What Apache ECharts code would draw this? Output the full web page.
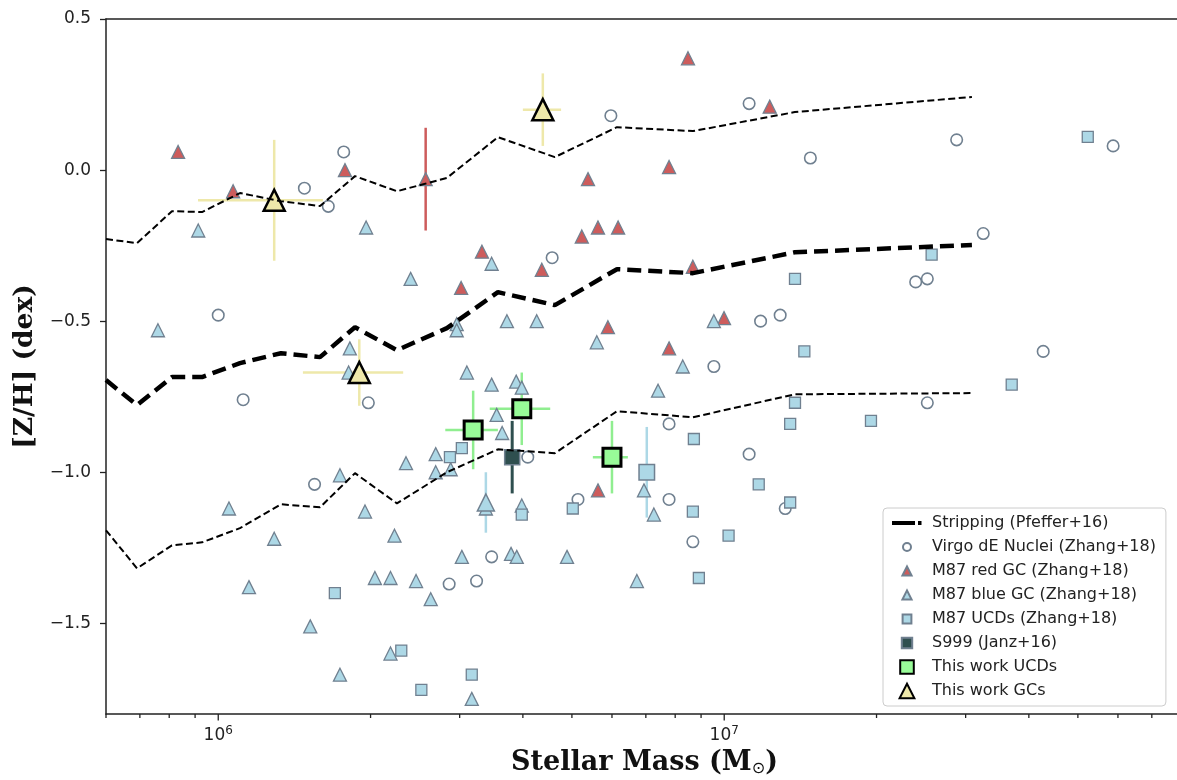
<!DOCTYPE html>
<html>
<head>
<meta charset="utf-8">
<script src="https://cdn.jsdelivr.net/npm/echarts@6/dist/echarts.min.js"></script>
<style>
  html, body { margin: 0; padding: 0; background: #ffffff; }
  #chart { width: 1177px; height: 780px; }
</style>
</head>
<body>
<div id="chart"></div>
<script>
// ---- Stripping tracks (Pfeffer+16): median and envelope ----
const stripMass   = [6.0e5, 6.91e5, 8.10e5, 9.29e5, 1.104e6, 1.33e6, 1.589e6, 1.863e6, 2.255e6, 2.831e6, 3.571e6, 4.627e6, 6.138e6, 8.673e6, 1.379e7, 3.087e7];
const stripMedian = [-0.695, -0.778, -0.685, -0.685, -0.639, -0.606, -0.619, -0.520, -0.596, -0.523, -0.404, -0.447, -0.328, -0.341, -0.272, -0.248];
const stripUpper  = [-0.228, -0.242, -0.136, -0.139, -0.076, -0.103, -0.119, -0.020, -0.070, -0.026, 0.109, 0.043, 0.142, 0.129, 0.192, 0.242];
const stripLower  = [-1.192, -1.318, -1.242, -1.232, -1.185, -1.106, -1.116, -1.003, -1.103, -1.000, -0.924, -0.937, -0.798, -0.818, -0.742, -0.738];

// ---- Virgo dE nuclei (Zhang+18) ----
const nucleiMass = [1.48e6, 1.65e6, 1.77e6, 5.97e6, 1.12e7, 1.48e7, 2.88e7, 5.87e7, 3.25e7, 4.57e6, 1.00e6, 1.12e6, 1.98e6, 1.55e6, 1.18e7, 1.29e7, 2.39e7, 2.52e7, 4.27e7, 2.52e7, 9.54e6, 7.78e6, 1.12e7, 4.09e6, 5.14e6, 7.78e6, 1.32e7, 8.67e6, 2.86e6, 3.24e6, 3.47e6];
const nucleiZH   = [-0.06, -0.12, 0.06, 0.18, 0.22, 0.04, 0.10, 0.08, -0.21, -0.29, -0.48, -0.76, -0.77, -1.04, -0.50, -0.48, -0.37, -0.36, -0.60, -0.77, -0.65, -0.84, -0.94, -0.95, -1.09, -1.09, -1.12, -1.23, -1.37, -1.36, -1.28];

// ---- M87 red GCs (Zhang+18); one object carries a [Z/H] error ----
const redMass  = [8.33e5, 1.07e6, 1.78e6, 2.57e6, 3.32e6, 3.02e6, 4.36e6, 5.23e6, 5.63e6, 6.17e6, 5.38e6, 7.78e6, 8.48e6, 1.23e7, 5.89e6, 7.78e6, 9.99e6, 8.67e6, 5.63e6];
const redZH    = [0.06, -0.07, 0.00, -0.03, -0.27, -0.39, -0.33, -0.22, -0.19, -0.19, -0.03, 0.01, 0.37, 0.21, -0.52, -0.59, -0.49, -0.32, -1.06];
const redZHErr = [null, null, null, 0.17, null, null, null, null, null, null, null, null, null, null, null, null, null, null, null];

// ---- M87 blue GCs (Zhang+18) ----
const blueMass = [9.13e5, 1.96e6, 2.40e6, 3.47e6, 7.60e5, 2.96e6, 2.96e6, 3.72e6, 4.26e6, 5.60e6, 8.28e6, 9.54e6, 7.40e6, 1.82e6, 1.81e6, 3.10e6, 3.47e6, 3.88e6, 3.98e6, 3.55e6, 3.64e6, 1.74e6, 1.05e6, 1.29e6, 1.95e6, 2.23e6, 1.15e6, 1.52e6, 1.74e6, 2.04e6, 2.19e6, 2.19e6, 2.46e6, 2.63e6, 3.03e6, 3.79e6, 3.89e6, 4.89e6, 6.72e6, 3.17e6, 2.35e6, 2.69e6, 2.69e6, 2.88e6, 3.38e6, 3.98e6, 6.94e6, 7.26e6];
const blueZH   = [-0.20, -0.19, -0.36, -0.31, -0.53, -0.51, -0.53, -0.50, -0.50, -0.57, -0.65, -0.50, -0.73, -0.59, -0.67, -0.67, -0.71, -0.70, -0.72, -0.81, -0.87, -1.01, -1.12, -1.22, -1.13, -1.21, -1.38, -1.51, -1.67, -1.35, -1.35, -1.60, -1.36, -1.42, -1.28, -1.27, -1.28, -1.28, -1.36, -1.75, -0.97, -0.94, -1.00, -0.99, -1.12, -1.11, -1.06, -1.14];
// blue GC with a measured [Z/H] error
const blueBarMass = [3.38e6];
const blueBarZH   = [-1.10];
const blueBarErr  = [0.10];

// ---- M87 UCDs (Zhang+18) ----
const ucdMass = [5.23e7, 2.57e7, 1.38e7, 1.44e7, 3.70e7, 1.38e7, 1.35e7, 1.95e7, 1.17e7, 1.35e7, 8.71e6, 1.02e7, 8.67e6, 8.91e6, 5.02e6, 3.98e6, 3.03e6, 2.87e6, 1.70e6, 2.30e6, 2.52e6, 3.17e6];
const ucdZH   = [0.11, -0.28, -0.36, -0.60, -0.71, -0.77, -0.84, -0.83, -1.04, -1.10, -0.89, -1.21, -1.13, -1.35, -1.12, -1.14, -0.92, -0.95, -1.40, -1.59, -1.72, -1.67];
const ucdBarMass = [7.03e6];
const ucdBarZH   = [-1.00];
const ucdBarErr  = [0.15];

// ---- S999 (Janz+16) ----
const s999Mass = [3.81e6];
const s999ZH   = [-0.95];
const s999Err  = [0.12];

// ---- This work: UCDs ----
const workUcdMass   = [3.19e6, 3.98e6, 6.00e6];
const workUcdZH     = [-0.86, -0.79, -0.95];
const workUcdMassLo = [2.81e6, 3.44e6, 5.50e6];
const workUcdMassHi = [3.57e6, 4.53e6, 6.45e6];
const workUcdErr    = [0.13, 0.12, 0.12];

// ---- This work: GCs ----
const workGcMass   = [1.29e6, 4.38e6, 1.90e6];
const workGcZH     = [-0.10, 0.20, -0.67];
const workGcMassLo = [9.12e5, 4.00e6, 1.47e6];
const workGcMassHi = [1.61e6, 4.76e6, 2.32e6];
const workGcErr    = [0.20, 0.12, 0.11];

// ---- axis ticks ----
const X_MIN = 6.0e5, X_MAX = 7.85e7;
const Y_MIN = -1.8, Y_MAX = 0.5;
const xMajorTicks = [1e6, 1e7];
const xMinorTicks = [6e5, 7e5, 8e5, 9e5, 2e6, 3e6, 4e6, 5e6, 6e6, 7e6, 8e6, 9e6, 2e7, 3e7, 4e7, 5e7, 6e7, 7e7];
const yTicks = [-1.5, -1.0, -0.5, 0.0, 0.5];

const EDGE = '#708090';
const TXT = '#222222';

const zip = (a, b) => a.map((v, i) => [v, b[i]]);

// legend glyphs, drawn in a 16x16 box so their relative sizes are kept
const PAD = 'M0,0 M16,16 ';
const legendIcons = {
  strip: 'path://M0,6 H23 V10 H0 Z M26,6 H29.5 V10 H26 Z M0,0 M30,16',
  circle: 'path://' + PAD + 'M4,8 A4,4 0 1,0 12,8 A4,4 0 1,0 4,8 Z',
  tri: 'path://' + PAD + 'M8,3.4 L12.6,12.6 L3.4,12.6 Z',
  sq: 'path://' + PAD + 'M3.6,3.6 H12.4 V12.4 H3.6 Z',
  sqMid: 'path://' + PAD + 'M2.8,2.8 H13.2 V13.2 H2.8 Z',
  sqBig: 'path://' + PAD + 'M1.2,1.2 H14.8 V14.8 H1.2 Z',
  triBig: 'path://' + PAD + 'M8,0.8 L15.4,15.2 L0.6,15.2 Z'
};

// error bar rows: [mass, z, massLo, massHi, dz]
function errRows(mass, zh, dz, lo, hi) {
  const rows = [];
  mass.forEach((m, i) => {
    if (dz[i] == null) return;
    rows.push([m, zh[i], lo ? lo[i] : null, hi ? hi[i] : null, dz[i]]);
  });
  return rows;
}

function errorBars(name, rows, color, width) {
  return {
    type: 'custom', name: name, silent: true, clip: false,
    encode: { x: 0, y: 1 },
    data: rows,
    renderItem: function (params, api) {
      const m = api.value(0), z = api.value(1), lo = api.value(2), hi = api.value(3), dz = api.value(4);
      const kids = [];
      const a = api.coord([m, z - dz]), b = api.coord([m, z + dz]);
      kids.push({ type: 'line', shape: { x1: a[0], y1: a[1], x2: b[0], y2: b[1] },
                  style: { stroke: color, lineWidth: width } });
      if (isFinite(lo) && isFinite(hi) && lo > 0 && hi > 0) {
        const c = api.coord([lo, z]), d = api.coord([hi, z]);
        kids.push({ type: 'line', shape: { x1: c[0], y1: c[1], x2: d[0], y2: d[1] },
                    style: { stroke: color, lineWidth: width } });
      }
      return { type: 'group', children: kids };
    }
  };
}

function tickMarks(values, len) {
  return {
    type: 'custom', silent: true, clip: false,
    encode: { x: 0, y: 1 },
    data: values.map(v => [v, Y_MIN]),
    renderItem: function (params, api) {
      const p = api.coord([api.value(0), api.value(1)]);
      return { type: 'line', shape: { x1: p[0], y1: p[1], x2: p[0], y2: p[1] + len },
               style: { stroke: TXT, lineWidth: 1.3 } };
    }
  };
}

function scatter(name, data, symbol, size, fill, stroke, bw) {
  return {
    type: 'scatter', name: name, data: data, symbol: symbol, symbolSize: size,
    itemStyle: { color: fill, borderColor: stroke, borderWidth: bw, opacity: 1 },
    emphasis: { disabled: true }, silent: true
  };
}

function track(name, vals, width, dash) {
  return {
    type: 'line', name: name, data: zip(stripMass, vals), symbol: 'none', showSymbol: false,
    itemStyle: { color: '#000000' },
    lineStyle: { color: '#000000', width: width, type: dash, cap: 'butt' },
    emphasis: { disabled: true }, silent: true
  };
}

const chart = echarts.init(document.getElementById('chart'), null, { renderer: 'canvas' });

chart.setOption({
  animation: false,
  backgroundColor: '#ffffff',
  grid: { left: 106, right: 0, top: 19, bottom: 66, containLabel: false, outerBoundsMode: 'none' },
  xAxis: [{
    type: 'log', logBase: 10, min: X_MIN, max: X_MAX,
    name: '{b|Stellar Mass (M}{s|⊙}{b|)}',
    nameLocation: 'middle', nameGap: 28,
    nameTextStyle: {
      padding: [0, 0, 0, 6],
      rich: {
        b: { fontFamily: 'DejaVu Serif', fontWeight: 'bold', fontSize: 27, color: '#111111' },
        s: { fontFamily: 'DejaVu Sans', fontSize: 16, color: '#111111', padding: [11, 0, 0, 0] }
      }
    },
    axisLine: { show: true, onZero: false, lineStyle: { color: TXT, width: 1.5 } },
    axisTick: { show: false },
    splitLine: { show: false },
    minorTick: { show: false },
    axisLabel: {
      margin: 11,
      formatter: function (v) {
        const lg = Math.log10(v), e = Math.round(lg);
        if (Math.abs(lg - e) > 1e-6) return '';
        return '{b|10}{s|' + e + '}';
      },
      rich: {
        b: { fontFamily: 'DejaVu Sans', fontSize: 17, color: TXT },
        s: { fontFamily: 'DejaVu Sans', fontSize: 12, color: TXT, padding: [0, 0, 10, 0] }
      }
    }
  }, {
    type: 'value', position: 'top', min: 0, max: 1,
    axisLine: { show: true, onZero: false, lineStyle: { color: TXT, width: 1.5 } },
    axisTick: { show: false }, axisLabel: { show: false }, splitLine: { show: false }
  }],
  yAxis: {
    type: 'value', min: Y_MIN, max: Y_MAX,
    name: '[Z/H] (dex)', nameLocation: 'middle', nameGap: 65, nameRotate: 90,
    nameTextStyle: { fontFamily: 'DejaVu Serif', fontWeight: 'bold', fontSize: 26.5, color: '#111111' },
    axisLine: { show: true, onZero: false, lineStyle: { color: TXT, width: 1.5 } },
    axisTick: { show: true, length: 6, customValues: yTicks, lineStyle: { color: TXT, width: 1.3 } },
    splitLine: { show: false },
    axisLabel: {
      customValues: yTicks, margin: 15,
      fontFamily: 'DejaVu Sans', fontSize: 17, color: TXT,
      formatter: v => (v < 0 ? '\u2212' : '') + Math.abs(v).toFixed(1)
    }
  },
  legend: {
    orient: 'vertical', left: 883, top: 508,
    padding: [6, 10, 6, 9], itemGap: 6, itemWidth: 40, itemHeight: 16,
    symbolKeepAspect: true,
    backgroundColor: 'rgba(255,255,255,0.85)', borderColor: '#cccccc', borderWidth: 1, borderRadius: 4,
    selectedMode: false,
    textStyle: { fontFamily: 'DejaVu Sans', fontSize: 16, color: TXT, lineHeight: 18 },
    data: [
      { name: 'Stripping (Pfeffer+16)', icon: legendIcons.strip, itemStyle: { color: '#000000', borderWidth: 0 } },
      { name: 'Virgo dE Nuclei (Zhang+18)', icon: legendIcons.circle },
      { name: 'M87 red GC (Zhang+18)', icon: legendIcons.tri },
      { name: 'M87 blue GC (Zhang+18)', icon: legendIcons.tri },
      { name: 'M87 UCDs (Zhang+18)', icon: legendIcons.sq },
      { name: 'S999 (Janz+16)', icon: legendIcons.sqMid },
      { name: 'This work UCDs', icon: legendIcons.sqBig },
      { name: 'This work GCs', icon: legendIcons.triBig }
    ]
  },
  series: [
    tickMarks(xMinorTicks, 4),
    tickMarks(xMajorTicks, 6.5),
    errorBars('err-red', errRows(redMass, redZH, redZHErr), '#CD5C5C', 2.5),
    errorBars('err-blue', errRows(blueBarMass, blueBarZH, blueBarErr), '#ADD8E6', 2.5),
    errorBars('err-ucd', errRows(ucdBarMass, ucdBarZH, ucdBarErr), '#ADD8E6', 2.5),
    track('Stripping (Pfeffer+16)', stripMedian, 4.5, [14, 7]),
    track('envelope-upper', stripUpper, 2, [7, 3.5]),
    track('envelope-lower', stripLower, 2, [7, 3.5]),
    scatter('Virgo dE Nuclei (Zhang+18)', zip(nucleiMass, nucleiZH), 'circle', 11.5, 'rgba(255,255,255,0)', EDGE, 1.6),
    scatter('M87 red GC (Zhang+18)', zip(redMass, redZH), 'triangle', 13, '#CD5C5C', EDGE, 1.3),
    scatter('M87 blue GC (Zhang+18)', zip(blueMass, blueZH), 'triangle', 13, '#ADD8E6', EDGE, 1.3),
    scatter('M87 blue GC (Zhang+18)', zip(blueBarMass, blueBarZH), 'triangle', 17, '#ADD8E6', EDGE, 1.5),
    scatter('M87 UCDs (Zhang+18)', zip(ucdMass, ucdZH), 'rect', 11, '#ADD8E6', EDGE, 1.3),
    scatter('M87 UCDs (Zhang+18)', zip(ucdBarMass, ucdBarZH), 'rect', 15.5, '#ADD8E6', EDGE, 1.5),
    errorBars('err-s999', errRows(s999Mass, s999ZH, s999Err), '#2F4F4F', 3),
    scatter('S999 (Janz+16)', zip(s999Mass, s999ZH), 'rect', 15, '#2F4F4F', EDGE, 1.5),
    errorBars('err-work-ucd', errRows(workUcdMass, workUcdZH, workUcdErr, workUcdMassLo, workUcdMassHi), '#90EE90', 2.5),
    scatter('This work UCDs', zip(workUcdMass, workUcdZH), 'rect', 18, '#98FB98', '#000000', 3),
    errorBars('err-work-gc', errRows(workGcMass, workGcZH, workGcErr, workGcMassLo, workGcMassHi), '#EEE8AA', 2.5),
    scatter('This work GCs', zip(workGcMass, workGcZH), 'triangle', 21, '#EEE8AA', '#000000', 2.5)
  ]
});
</script>
</body>
</html>
